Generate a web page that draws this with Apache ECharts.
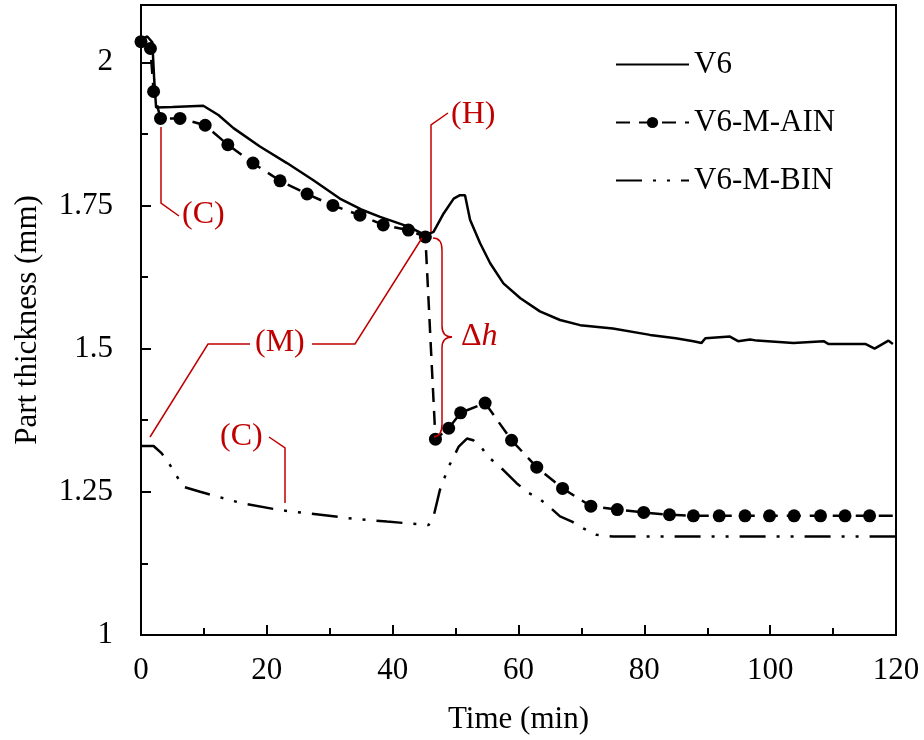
<!DOCTYPE html>
<html>
<head>
<meta charset="utf-8">
<script src="https://cdn.jsdelivr.net/npm/echarts@6/dist/echarts.min.js"></script>
<style>
  html, body { margin: 0; padding: 0; background: #fff; }
  #chart { width: 924px; height: 740px; }
</style>
</head>
<body>
<div id="chart"></div>
<script>
// V6
var v6Time  = [0, 1, 1.8, 2.1, 2.4, 5, 9.9, 12.3, 14.7, 18.9, 23.2, 27.4, 31.6, 35, 38, 42.5, 45.2, 46.5, 48.1, 49.7, 50.7, 51.5, 52.3, 53.9, 55.5, 57.6, 60.3, 63.4, 66.6, 69.8, 75, 80.9, 85, 87.8, 89.1, 89.7, 93.6, 94.9, 96.8, 97.9, 103.7, 108.5, 109.3, 115.2, 116.6, 118.8, 119.5];
var v6Thick = [2.04, 2.045, 2.035, 1.97, 1.921, 1.922, 1.924, 1.908, 1.885, 1.853, 1.824, 1.794, 1.762, 1.743, 1.730, 1.713, 1.698, 1.704, 1.736, 1.762, 1.768, 1.768, 1.725, 1.684, 1.649, 1.614, 1.588, 1.565, 1.550, 1.541, 1.535, 1.524, 1.518, 1.513, 1.510, 1.518, 1.521, 1.513, 1.516, 1.514, 1.510, 1.513, 1.508, 1.508, 1.500, 1.514, 1.508];

// V6-M-AIN
var ainTime  = [0, 1.5, 2.0, 3.1, 6.2, 10.2, 13.8, 17.8, 22.1, 26.4, 30.5, 34.8, 38.5, 42.5, 45.2, 46.8, 48.9, 50.8, 54.7, 58.9, 62.9, 67.0, 71.5, 75.7, 79.9, 84.0, 87.8, 91.9, 96.0, 99.9, 103.8, 108.0, 111.9, 115.8, 120];
var ainThick = [2.036, 2.024, 1.949, 1.902, 1.902, 1.89, 1.856, 1.824, 1.793, 1.77, 1.75, 1.733, 1.716, 1.707, 1.695, 1.342, 1.361, 1.388, 1.405, 1.340, 1.293, 1.256, 1.225, 1.219, 1.214, 1.210, 1.208, 1.208, 1.208, 1.208, 1.208, 1.208, 1.208, 1.208, 1.208];

// V6-M-BIN
var binTime  = [0, 2, 3.3, 4.6, 6.7, 9.4, 15.7, 22.1, 26.9, 33.8, 39.1, 45.7, 46.5, 47.5, 48.9, 49.7, 50.5, 51.8, 52.8, 54.2, 55.2, 57.6, 59.7, 61.6, 63.2, 65.0, 66.6, 68.5, 70.3, 72.4, 75, 120];
var binThick = [1.330, 1.330, 1.317, 1.297, 1.259, 1.250, 1.231, 1.218, 1.212, 1.203, 1.198, 1.192, 1.207, 1.253, 1.294, 1.311, 1.329, 1.343, 1.340, 1.326, 1.311, 1.288, 1.265, 1.248, 1.239, 1.223, 1.207, 1.198, 1.186, 1.175, 1.172, 1.172];

var seriesNames = ['V6', 'V6-M-AIN', 'V6-M-BIN'];
var yMajorTicks = [1, 1.25, 1.5, 1.75, 2];
var yMinorTicks = [1.125, 1.375, 1.625, 1.875];

function pairs(xs, ys) {
  return xs.map(function (x, i) { return [x, ys[i]]; });
}

var FONT = 'Liberation Serif';
var RED = '#c00000';
var redLine = { stroke: RED, lineWidth: 1.5, fill: null };

function poly(points) {
  return { type: 'polyline', shape: { points: points }, style: redLine, z: 100 };
}
function curve(x1, y1, cx, cy, x2, y2) {
  return { type: 'bezierCurve', shape: { x1: x1, y1: y1, cpx1: cx, cpy1: cy, x2: x2, y2: y2 }, style: redLine, z: 100 };
}
function label(text, x, y) {
  return { type: 'text', x: x, y: y, style: { text: text, fill: RED, fontFamily: FONT, fontSize: 32, verticalAlign: 'middle' }, z: 100 };
}

var myChart = echarts.init(document.getElementById('chart'));

var option = {
  backgroundColor: '#fff',
  animation: false,
  textStyle: { fontFamily: FONT },

  grid: {
    left: 141, right: 28, top: 5, bottom: 105,
    show: true, borderColor: '#000', borderWidth: 2,
    backgroundColor: 'rgba(0,0,0,0)'
  },

  legend: {
    orient: 'vertical',
    left: 610, top: 44,
    itemWidth: 73, itemHeight: 14, itemGap: 27,
    textStyle: { fontFamily: FONT, fontSize: 31, color: '#000' },
    data: [
      { name: seriesNames[0], itemStyle: { opacity: 0 } },
      { name: seriesNames[1] },
      { name: seriesNames[2], itemStyle: { opacity: 0 } }
    ]
  },

  xAxis: {
    type: 'value',
    min: 0, max: 120, interval: 20,
    name: 'Time (min)',
    nameLocation: 'middle',
    nameGap: 69,
    nameTextStyle: { fontFamily: FONT, fontSize: 31, color: '#000' },
    axisLine: { show: true, lineStyle: { color: '#000', width: 2 } },
    axisTick: { show: true, inside: true, length: 10, lineStyle: { color: '#000', width: 2 } },
    minorTick: { show: true, splitNumber: 2, length: 7, lineStyle: { color: '#000', width: 2 } },
    axisLabel: { fontFamily: FONT, fontSize: 31, color: '#000', margin: 20 },
    splitLine: { show: false }
  },

  yAxis: [{
    type: 'value',
    min: 1, max: 2.1, interval: 0.25,
    name: 'Part thickness (mm)',
    nameLocation: 'middle',
    nameGap: 98,
    nameTextStyle: { fontFamily: FONT, fontSize: 31, color: '#000' },
    axisLine: { show: true, lineStyle: { color: '#000', width: 2 } },
    axisTick: { show: true, inside: true, length: 10, customValues: yMajorTicks, lineStyle: { color: '#000', width: 2 } },
    axisLabel: {
      fontFamily: FONT, fontSize: 31, color: '#000', margin: 28,
      customValues: yMajorTicks,
      formatter: function (v) { return String(v); }
    },
    splitLine: { show: false }
  }, {
    // minor ticks only
    type: 'value',
    position: 'left',
    min: 1, max: 2.1, interval: 0.25,
    axisLine: { show: false },
    axisTick: { show: true, inside: true, length: 7, customValues: yMinorTicks, lineStyle: { color: '#000', width: 2 } },
    axisLabel: { show: false },
    splitLine: { show: false }
  }],

  series: [
    {
      name: 'V6',
      type: 'line',
      symbol: 'none',
      lineStyle: { color: '#000', width: 2.5, type: 'solid' },
      itemStyle: { color: '#000' },
      data: pairs(v6Time, v6Thick)
    },
    {
      name: 'V6-M-AIN',
      type: 'line',
      symbol: function (val, params) {
        return params.dataIndex === ainTime.length - 1 ? 'none' : 'circle';
      },
      symbolSize: 13,
      lineStyle: { color: '#000', width: 2.5, type: [14, 9] },
      itemStyle: { color: '#000', borderWidth: 0 },
      data: pairs(ainTime, ainThick)
    },
    {
      name: 'V6-M-BIN',
      type: 'line',
      symbol: 'none',
      lineStyle: { color: '#000', width: 2.5, type: [26, 11, 3, 11, 3, 11] },
      itemStyle: { color: '#000' },
      data: pairs(binTime, binThick)
    }
  ],

  graphic: [
    // (C) upper
    poly([[161, 127], [161, 203], [179, 216]]),
    label('(C)', 182, 215),
    // (H)
    poly([[431, 232], [431, 125], [448, 113]]),
    label('(H)', 451, 115),
    // (M)
    poly([[150, 437], [208, 344], [250, 344]]),
    poly([[312, 344], [355, 344], [422, 238]]),
    label('(M)', 255, 343),
    // (C) lower
    poly([[269, 437], [285, 448], [285, 503]]),
    label('(C)', 220, 437),
    // brace
    curve(433, 238, 442, 238, 442, 250),
    poly([[442, 250], [442, 326]]),
    curve(442, 326, 442, 337, 452, 337),
    curve(452, 337, 442, 337, 442, 348),
    poly([[442, 348], [442, 424]]),
    curve(442, 424, 442, 436, 434, 437),
    {
      type: 'text', x: 461, y: 337, z: 100,
      style: {
        text: '{a|Δ}{b|h}',
        verticalAlign: 'middle',
        rich: {
          a: { fill: RED, fontFamily: FONT, fontSize: 32 },
          b: { fill: RED, fontFamily: FONT, fontSize: 32, fontStyle: 'italic' }
        }
      }
    }
  ]
};

myChart.setOption(option);
</script>
</body>
</html>
